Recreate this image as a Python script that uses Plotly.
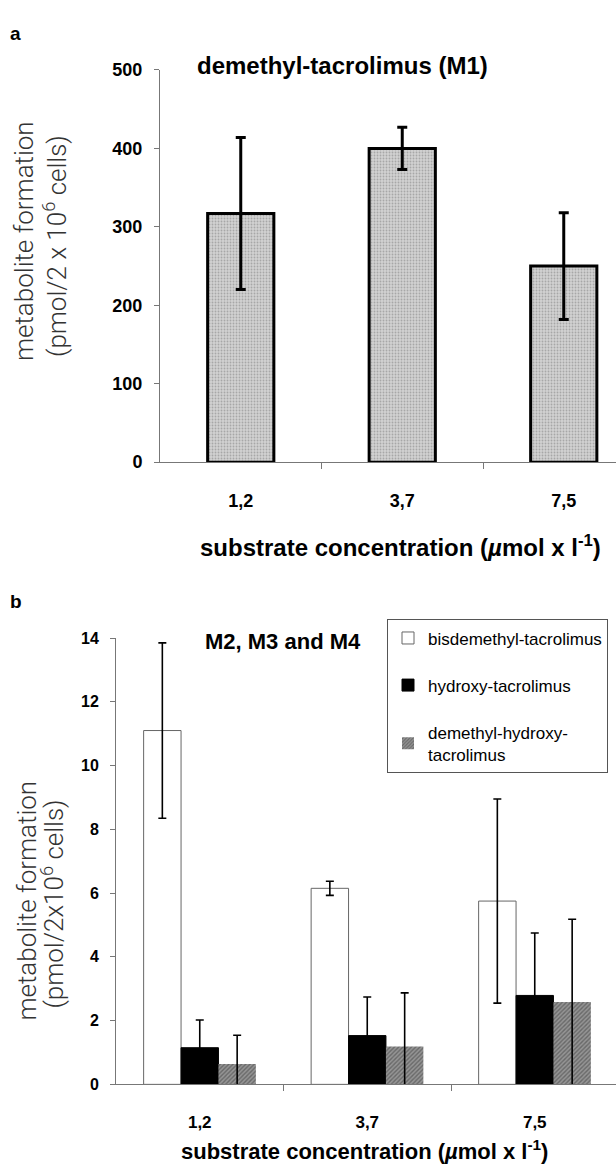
import plotly.graph_objects as go

# ---------------- data ----------------
categories = ["1,2", "3,7", "7,5"]

m1_mean = [317, 400, 250]
m1_err = [97, 27, 68]

bis_mean = [11.1, 6.15, 5.75]
bis_err = [2.75, 0.22, 3.2]
hyd_mean = [1.15, 1.53, 2.79]
hyd_err = [0.87, 1.21, 1.96]
dmh_mean = [0.64, 1.19, 2.58]
dmh_err = [0.9, 1.68, 2.6]

series_names = ["bisdemethyl-tacrolimus", "hydroxy-tacrolimus", "demethyl-hydroxy-<br>tacrolimus"]

y1_ticks = [0, 100, 200, 300, 400, 500]
y2_ticks = [0, 2, 4, 6, 8, 10, 12, 14]

# ---------------- helpers ----------------
W, H = 616, 1173
def px(x):
    return x / W
def py(y):
    return 1 - y / H

FONT = "Liberation Sans, Arial, Helvetica, sans-serif"
LIGHT = "Roboto, Liberation Sans, Arial, sans-serif"
xpos = list(range(len(categories)))
mid = [i + 0.5 for i in xpos[:-1]]

fig = go.Figure()

# panel a
fig.add_trace(go.Bar(
    x=xpos, y=m1_mean, width=0.41, xaxis="x", yaxis="y", showlegend=False,
    marker=dict(color="#c6c6c6", line=dict(color="black", width=3),
                pattern=dict(shape=".", fgcolor="#7a7a7a", bgcolor="#d2d2d2", size=3, solidity=0.3)),
    error_y=dict(type="data", array=m1_err, color="black", thickness=3, width=5),
))

# panel b
fig.add_trace(go.Bar(
    x=xpos, y=bis_mean, name=series_names[0], xaxis="x2", yaxis="y2", legendgroup="a",
    marker=dict(color="white", line=dict(color="#666", width=1)),
    error_y=dict(type="data", array=bis_err, color="black", thickness=1.6, width=4),
))
fig.add_trace(go.Bar(
    x=xpos, y=hyd_mean, name=series_names[1], xaxis="x2", yaxis="y2", legendgroup="b",
    marker=dict(color="black", line=dict(color="black", width=1)),
    error_y=dict(type="data", array=hyd_err, color="black", thickness=1.6, width=4),
))
fig.add_trace(go.Bar(
    x=xpos, y=dmh_mean, name=series_names[2], xaxis="x2", yaxis="y2", legendgroup="c",
    marker=dict(color="#7c7c7c", line=dict(color="#7c7c7c", width=0),
                pattern=dict(shape="/", fgcolor="#3c3c3c", bgcolor="#959595", size=3, solidity=0.45)),
    error_y=dict(type="data", array=dmh_err, color="black", thickness=1.6, width=4),
))

axis_common = dict(showgrid=False, zeroline=False, showline=True, linecolor="#777", linewidth=1)

fig.update_layout(
    width=W, height=H, margin=dict(l=0, r=0, t=0, b=0),
    paper_bgcolor="white", plot_bgcolor="white",
    barmode="group", bargap=0.33, bargroupgap=0,
    font=dict(family=FONT, color="black"),
    xaxis=dict(domain=[px(160), 1], range=[-0.5, (616 - 160) / 161.5 - 0.5], anchor="y",
               tickmode="array", tickvals=xpos, ticktext=categories, ticks="",
               tickfont=dict(size=18, family=FONT, weight="bold"), ticklabelstandoff=22,
               minor=dict(tickmode="array", tickvals=mid, ticks="outside", ticklen=6, tickcolor="#777"),
               **axis_common),
    yaxis=dict(domain=[py(460), py(61)], range=[0, 500], anchor="x",
               tickmode="array", tickvals=y1_ticks, ticks="outside", ticklen=5, tickcolor="#777",
               tickfont=dict(size=18, family=FONT, weight="bold"), ticklabelstandoff=8,
               **axis_common),
    xaxis2=dict(domain=[px(116), 1], range=[-0.5, (616 - 116) / 167.5 - 0.5], anchor="y2",
                tickmode="array", tickvals=xpos, ticktext=categories, ticks="",
                tickfont=dict(size=17, family=FONT, weight="bold"), ticklabelstandoff=22,
                minor=dict(tickmode="array", tickvals=mid, ticks="outside", ticklen=6, tickcolor="#777"),
                **axis_common),
    yaxis2=dict(domain=[py(1093), py(639)], range=[0, 14], anchor="x2",
                tickmode="array", tickvals=y2_ticks, ticks="outside", ticklen=5, tickcolor="#777",
                tickfont=dict(size=16, family=FONT, weight="bold"), ticklabelstandoff=8,
                **axis_common),
    legend=dict(x=px(387), y=py(620), xanchor="left", yanchor="top",
                bordercolor="#555", borderwidth=1, bgcolor="white",
                font=dict(size=17, family=FONT), tracegroupgap=22, traceorder="grouped"),
)

ann = []
def text(x, y, s, size, bold=True, family=FONT, angle=0, color="black", weight=None):
    ann.append(dict(x=px(x), y=py(y), xref="paper", yref="paper", text=s, showarrow=False,
                    xanchor="center", yanchor="middle", textangle=angle,
                    font=dict(size=size, family=family, color=color,
                              weight=weight if weight else ("bold" if bold else "normal"))))

text(15, 24, "a", 19)
text(16, 602, "b", 19)
text(342, 56, "demethyl-tacrolimus (M1)", 24)
text(283, 642, "M2, M3 and M4", 22)
text(400, 545, "substrate concentration (<i>µ</i>mol x l<sup>-1</sup>)", 24)
text(364, 1160, "substrate concentration (<i>µ</i>mol x l<sup>-1</sup>)", 22)
text(24, 235, "metabolite formation", 26, family=LIGHT, angle=-90, color="#333", weight=300)
text(55, 240, "(pmol/2 x 10<sup>6</sup> cells)", 26, family=LIGHT, angle=-90, color="#333", weight=300)
text(27, 906, "metabolite formation", 26, family=LIGHT, angle=-90, color="#333", weight=300)
text(53, 910, "(pmol/2x10<sup>6</sup> cells)", 26, family=LIGHT, angle=-90, color="#333", weight=300)
fig.update_layout(annotations=ann)

fig.write_html("out.html")
